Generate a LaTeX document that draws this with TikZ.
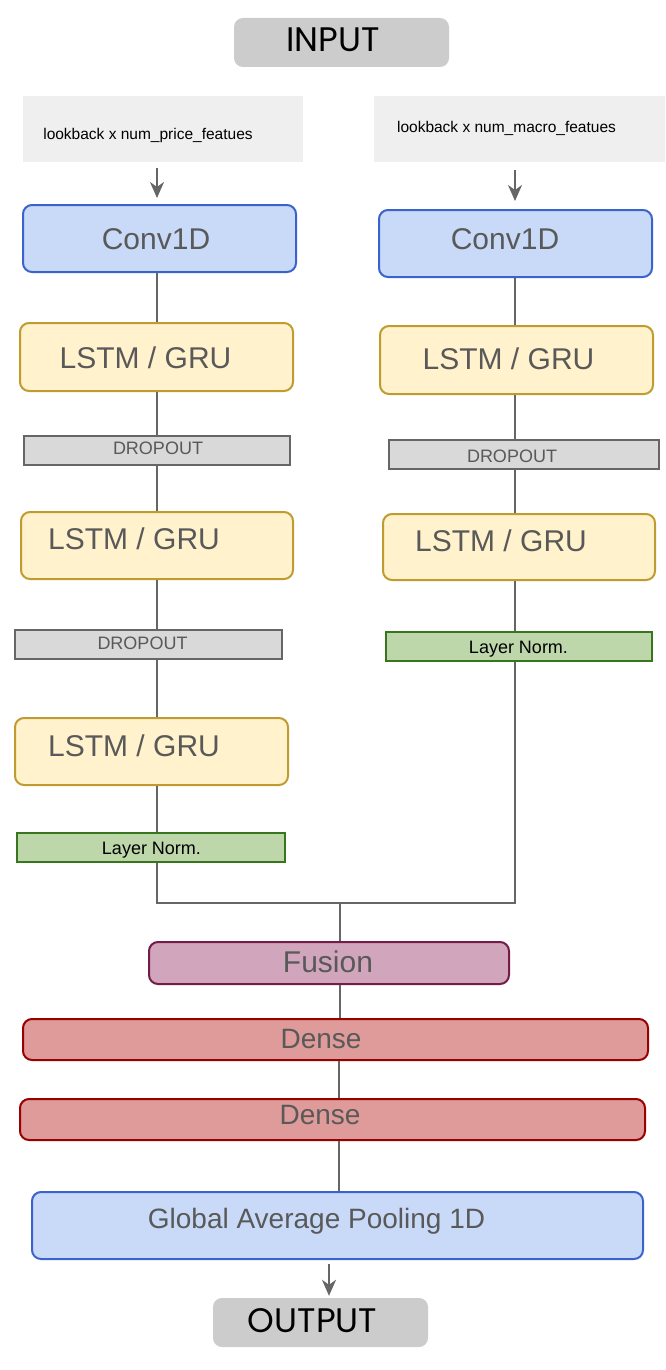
\documentclass[tikz,border=0pt]{standalone}
\usepackage{fontspec}
\setmainfont{Liberation Sans}
\newfontfamily\popfont{Poppins}
\usetikzlibrary{arrows.meta}
\definecolor{iogray}{HTML}{CCCCCC}
\definecolor{inbg}{HTML}{EFEFEF}
\definecolor{convfill}{HTML}{C9DAF8}
\definecolor{convline}{HTML}{3C63CB}
\definecolor{lstmfill}{HTML}{FFF2CC}
\definecolor{lstmline}{HTML}{BF9B30}
\definecolor{dropfill}{HTML}{D9D9D9}
\definecolor{dropline}{HTML}{666666}
\definecolor{lnfill}{HTML}{BDD7AB}
\definecolor{lnline}{HTML}{38761D}
\definecolor{fusfill}{HTML}{D1A6BD}
\definecolor{fusline}{HTML}{741B47}
\definecolor{denfill}{HTML}{DF9B99}
\definecolor{denline}{HTML}{990000}
\definecolor{txtgray}{HTML}{595959}
\definecolor{linegray}{HTML}{666666}
\tikzset{
  box/.style={draw, line width=2pt, rounded corners=9pt, inner sep=0pt},
  convbox/.style={box, fill=convfill, draw=convline},
  lstmbox/.style={box, fill=lstmfill, draw=lstmline},
  fusbox/.style={box, fill=fusfill, draw=fusline},
  denbox/.style={box, fill=denfill, draw=denline},
  dropbox/.style={draw=dropline, fill=dropfill, line width=2pt, inner sep=0pt},
  lnbox/.style={draw=lnline, fill=lnfill, line width=2pt, inner sep=0pt},
  iobox/.style={fill=iogray, draw=none, rounded corners=9pt, inner sep=0pt},
  inbox/.style={fill=inbg, draw=none, inner sep=0pt},
  txt/.style={inner sep=0pt, text depth=0pt, text=txtgray},
  big/.style={txt, text height=21.5pt, font=\fontsize{30}{36}\selectfont},
  mid/.style={txt, text height=20pt, font=\fontsize{28}{34}\selectfont},
  small/.style={txt, text height=12.9pt, font=\fontsize{18}{22}\selectfont},
  lnlabel/.style={txt, text height=12.9pt, text=black, font=\fontsize{18}{22}\selectfont},
  tiny/.style={txt, text height=11.1pt, text=black, font=\fontsize{15.5}{19}\selectfont},
  iolabel/.style={txt, text height=24pt, text=black, font=\popfont\fontsize{34}{40}\selectfont},
  conn/.style={draw=linegray, line width=2pt},
  arr/.style={conn, -{Stealth[length=16pt,width=14pt,inset=5pt]}},
}
\newcommand\bx[6]{\node[#2, minimum width={#5-#3}, minimum height={#6-#4}] (#1) at ({(#3+#5)/2},{(#4+#6)/2}) {};}
\begin{document}
\begin{tikzpicture}[x=1pt,y=-1pt]
\useasboundingbox[fill=white] (0,0) rectangle (666,1370);
% boxes
\bx{inp}{iobox}{234}{18}{449}{67}
\bx{inL}{inbox}{23}{96}{303}{162}
\bx{inR}{inbox}{374}{96}{665}{162}
\bx{cL}{convbox}{23}{205}{296}{272}
\bx{cR}{convbox}{379}{210}{652}{277}
\bx{lL1}{lstmbox}{20}{323}{293}{391}
\bx{lR1}{lstmbox}{380}{326}{653}{394}
\bx{dL1}{dropbox}{24}{436}{290}{465}
\bx{dR1}{dropbox}{389}{440}{659}{469}
\bx{lL2}{lstmbox}{21}{512}{293}{579}
\bx{lR2}{lstmbox}{383}{514}{655}{580}
\bx{dL2}{dropbox}{15}{630}{282}{659}
\bx{nR}{lnbox}{386}{632}{652}{661}
\bx{lL3}{lstmbox}{15}{718}{288}{785}
\bx{nL}{lnbox}{17}{833}{285}{862}
\bx{fus}{fusbox}{149}{942}{509}{984}
\bx{den1}{denbox}{23}{1019}{648}{1060}
\bx{den2}{denbox}{20}{1099}{645}{1140}
\bx{gap}{convbox}{32}{1192}{643}{1259}
\bx{out}{iobox}{213}{1298}{428}{1347}
% texts
\node[iolabel] (tinp) at (333,40) {INPUT};
\node[tiny] (tinL) at (148,134) {lookback x num\_price\_featues};
\node[tiny] (tinR) at (506.5,127) {lookback x num\_macro\_featues};
\node[big] (tcL) at (156,239) {Conv1D};
\node[big] (tcR) at (505,239) {Conv1D};
\node[big] (tlL1) at (145.5,358) {LSTM / GRU};
\node[big] (tlR1) at (508.5,359) {LSTM / GRU};
\node[small] (tdL1) at (158,448) {DROPOUT};
\node[small] (tdR1) at (512,456) {DROPOUT};
\node[big] (tlL2) at (134,539) {LSTM / GRU};
\node[big] (tlR2) at (501,541) {LSTM / GRU};
\node[small] (tdL2) at (142.5,643) {DROPOUT};
\node[lnlabel] (tnR) at (518.5,647) {Layer Norm.};
\node[big] (tlL3) at (134,746) {LSTM / GRU};
\node[lnlabel] (tnL) at (151.5,848) {Layer Norm.};
\node[big] (tfus) at (328,962) {Fusion};
\node[mid] (tden1) at (321,1038) {Dense};
\node[mid] (tden2) at (320,1114) {Dense};
\node[mid] (tgap) at (316.5,1218) {Global Average Pooling 1D};
\node[iolabel] (tout) at (312.5,1320) {OUTPUT};
% connector columns
\coordinate (xL) at (157,0);
\coordinate (xR) at (515,0);
\coordinate (j) at (340,903);
\coordinate (xo) at (329,0);
\draw[arr] ([yshift=-6pt]xL |- inL.south) -- ([yshift=6pt]xL |- cL.north);
\draw[arr] ([yshift=-8pt]xR |- inR.south) -- ([yshift=8pt]xR |- cR.north);
\draw[conn] (xL |- cL.south) -- (xL |- lL1.north);
\draw[conn] (xL |- lL1.south) -- (xL |- dL1.north);
\draw[conn] (xL |- dL1.south) -- (xL |- lL2.north);
\draw[conn] (xL |- lL2.south) -- (xL |- dL2.north);
\draw[conn] (xL |- dL2.south) -- (xL |- lL3.north);
\draw[conn] (xL |- lL3.south) -- (xL |- nL.north);
\draw[conn] (xR |- cR.south) -- (xR |- lR1.north);
\draw[conn] (xR |- lR1.south) -- (xR |- dR1.north);
\draw[conn] (xR |- dR1.south) -- (xR |- lR2.north);
\draw[conn] (xR |- lR2.south) -- (xR |- nR.north);
\draw[conn] (xL |- nL.south) |- (j) -| (xR |- nR.south);
\draw[conn] (j) -- (j |- fus.north);
\draw[conn] (j |- fus.south) -- (j |- den1.north);
\draw[conn] ([xshift=-1pt]j |- den1.south) -- ([xshift=-1pt]j |- den2.north);
\draw[conn] ([xshift=-1pt]j |- den2.south) -- ([xshift=-1pt]j |- gap.north);
\draw[arr] ([yshift=-4pt]xo |- gap.south) -- ([yshift=2pt]xo |- out.north);
\end{tikzpicture}
\end{document}
